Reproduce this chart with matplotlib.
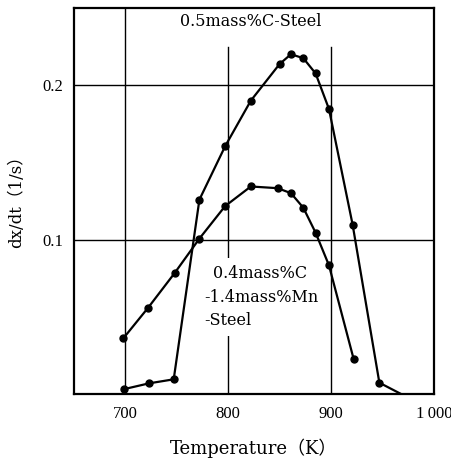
import matplotlib
matplotlib.use("Agg")
import matplotlib.pyplot as plt

plt.rcParams['font.family'] = ['Liberation Serif', 'Noto Sans CJK JP']

# 0.5mass%C-Steel
temp_c = [699, 723, 747, 772, 797, 822, 850, 861, 873, 885, 898, 921, 947, 969]
rate_c = [0.0035, 0.0072, 0.0098, 0.126, 0.1605, 0.190, 0.2137, 0.220, 0.2175,
          0.2076, 0.1846, 0.1098, 0.0076, 0.0]

# 0.4mass%C-1.4mass%Mn-Steel
temp_mn = [698, 722, 748, 772, 797, 822, 848, 861, 873, 885, 898, 922]
rate_mn = [0.0363, 0.056, 0.0786, 0.1008, 0.1218, 0.1345, 0.1334, 0.1302,
           0.1208, 0.1046, 0.0835, 0.0229]

xticks = [700, 800, 900, 1000]
xtick_labels = ["700", "800", "900", "1\u2009000"]
yticks = [0.1, 0.2]
ytick_labels = ["0.1", "0.2"]

fig = plt.figure(figsize=(4.51, 4.63), dpi=100)
ax = fig.add_axes([0.164, 0.148, 0.798, 0.835])

#grid lines, 800 and 900 stop below the title
ax.axvline(700, color="black", lw=1.0, zorder=1)
ax.axvline(800, ymax=0.9, color="black", lw=1.0, zorder=1)
ax.axvline(900, ymax=0.9, color="black", lw=1.0, zorder=1)
for v in yticks:
    ax.axhline(v, color="black", lw=1.0, zorder=1)

ax.plot(temp_c, rate_c, color="black", lw=1.6, marker="o", ms=5,
        markevery=list(range(len(temp_c) - 1)), zorder=4)
ax.plot(temp_mn, rate_mn, color="black", lw=1.6, marker="o", ms=5, zorder=4)

serif = ['DejaVu Serif']
ax.text(822, 0.241, "0.5mass%C-Steel", fontsize=11.5, family=serif,
        ha="center", va="center", zorder=3)
box = dict(facecolor="white", edgecolor="none", pad=5)
ax.text(785, 0.0785, "0.4mass%C", fontsize=11.5, family=serif,
        ha="left", va="center", bbox=box, zorder=3)
ax.text(776.5, 0.063, "-1.4mass%Mn", fontsize=11.5, family=serif,
        ha="left", va="center", bbox=box, zorder=3)
ax.text(777, 0.048, "-Steel", fontsize=11.5, family=serif,
        ha="left", va="center", bbox=box, zorder=3)

ax.set_xlim(650, 1000)
ax.set_ylim(0, 0.25)
ax.set_xticks(xticks)
ax.set_xticklabels(xtick_labels)
ax.set_yticks(yticks)
ax.set_yticklabels(ytick_labels)
ax.tick_params(length=0, labelsize=12, pad=8)
for s in ax.spines.values():
    s.set_linewidth(1.6)

ax.set_xlabel("Temperature\uff08K\uff09", fontsize=13,
              family=['DejaVu Serif', 'Noto Sans CJK JP'])
ax.set_ylabel("dx/dt\uff081/s\uff09", fontsize=12,
              family=['DejaVu Serif', 'Noto Sans CJK JP'])
ax.yaxis.set_label_coords(-0.135, 0.51)
ax.xaxis.set_label_coords(0.5, -0.115)

plt.savefig("out.png", dpi=100)
